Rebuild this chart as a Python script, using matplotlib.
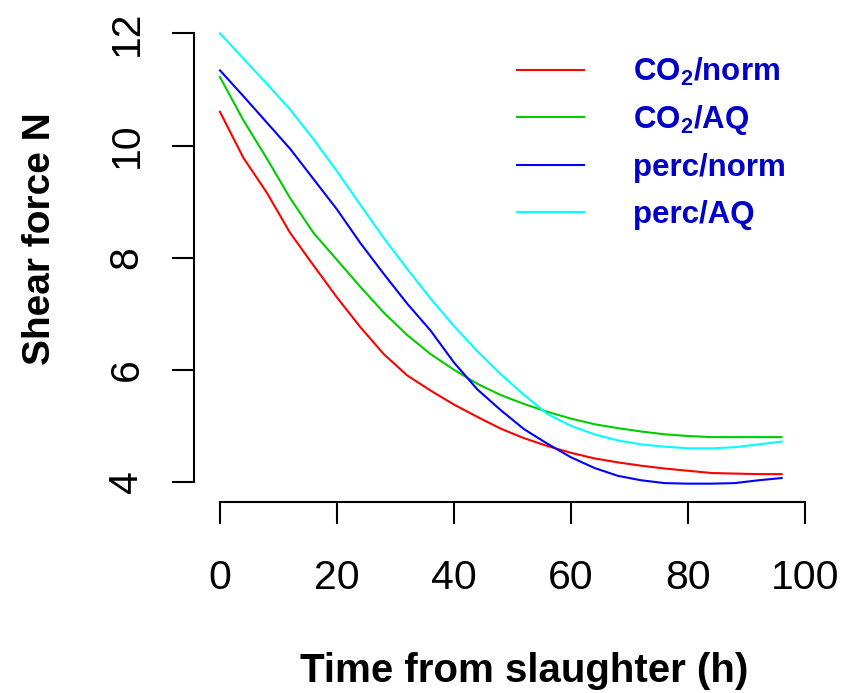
import matplotlib
matplotlib.use("Agg")
import matplotlib.pyplot as plt
from matplotlib.lines import Line2D

plt.rcParams["font.family"] = ["Liberation Sans", "DejaVu Sans"]
plt.rcParams["mathtext.fontset"] = "custom"
plt.rcParams["mathtext.bf"] = "Liberation Sans:bold"
plt.rcParams["mathtext.rm"] = "Liberation Sans:bold"
plt.rcParams["mathtext.default"] = "bf"

# Shear force over time post mortem, four treatment groups
hours = [0, 4, 8, 12, 16, 20, 24, 28, 32, 36, 40, 44, 48,
         52, 56, 60, 64, 68, 72, 76, 80, 84, 88, 92, 96]
co2_norm = [10.60, 9.78, 9.16, 8.44, 7.86, 7.29, 6.76, 6.28, 5.90, 5.63, 5.38, 5.16, 4.95,
            4.78, 4.64, 4.52, 4.42, 4.35, 4.29, 4.24, 4.20, 4.16, 4.15, 4.14, 4.14]
co2_aq = [11.22, 10.45, 9.77, 9.06, 8.44, 7.96, 7.48, 7.02, 6.62, 6.28, 6.00, 5.75, 5.55,
          5.39, 5.25, 5.13, 5.03, 4.96, 4.90, 4.85, 4.82, 4.80, 4.80, 4.80, 4.80]
perc_norm = [11.34, 10.88, 10.41, 9.94, 9.40, 8.86, 8.26, 7.71, 7.18, 6.70, 6.13, 5.65, 5.28,
             4.94, 4.68, 4.44, 4.25, 4.11, 4.03, 3.98, 3.97, 3.97, 3.98, 4.03, 4.07]
perc_aq = [12.00, 11.55, 11.10, 10.64, 10.11, 9.54, 8.94, 8.35, 7.80, 7.27, 6.78, 6.33, 5.92,
           5.55, 5.21, 5.00, 4.85, 4.74, 4.67, 4.63, 4.60, 4.60, 4.62, 4.67, 4.72]

series_labels = [r"CO$_2$/norm", r"CO$_2$/AQ", "perc/norm", "perc/AQ"]
series_colors = ["#FF0000", "#00CD00", "#0000FF", "#00FFFF"]
x_ticks = [0, 20, 40, 60, 80, 100]
y_ticks = [4, 6, 8, 10, 12]

W, H = 854, 693
fig = plt.figure(figsize=(W / 100, H / 100), dpi=100)
fig.patch.set_facecolor("white")


def fx(px):
    return px / W


def fy(py):
    return 1 - py / H


ax = fig.add_axes([fx(194), fy(502), fx(828.4) - fx(194), fy(15.4) - fy(502)])
ax.set_xlim(-4.44, 104)
ax.set_ylim(3.643, 12.32)

for vals, col in zip([co2_norm, co2_aq, perc_norm, perc_aq], series_colors):
    ax.plot(hours, vals, color=col, lw=1.5)

for s in ["top", "right"]:
    ax.spines[s].set_visible(False)
ax.spines["left"].set_bounds(4, 12)
ax.spines["bottom"].set_bounds(0, 100)
for s in ["left", "bottom"]:
    ax.spines[s].set_linewidth(1.5)

ax.set_xticks(x_ticks)
ax.set_yticks(y_ticks)
ax.tick_params(axis="both", length=16, width=1.5, labelsize=29.5, color="black")
ax.tick_params(axis="x", pad=25)
ax.tick_params(axis="y", pad=19, labelrotation=90)
for lbl in ax.get_yticklabels():
    lbl.set_va("center")

fig.text(fx(524), fy(682), "Time from slaughter (h)", ha="center", va="baseline",
         fontsize=29, fontweight="bold")
fig.text(fx(50), fy(239), "Shear force N", ha="center", va="baseline", rotation=90,
         rotation_mode="anchor", fontsize=28, fontweight="bold")

# legend drawn as short segments with bold labels
leg_y = [70, 117, 165, 212]
for py, lab, col in zip(leg_y, series_labels, series_colors):
    fig.add_artist(Line2D([fx(517), fx(584)], [fy(py), fy(py)], color=col, lw=1.5))
    fig.text(fx(633), fy(py + 11), lab, ha="left", va="baseline",
             fontsize=22.5, fontweight="bold", color="#0000C8")

fig.savefig("out.png", dpi=100, facecolor="white")
